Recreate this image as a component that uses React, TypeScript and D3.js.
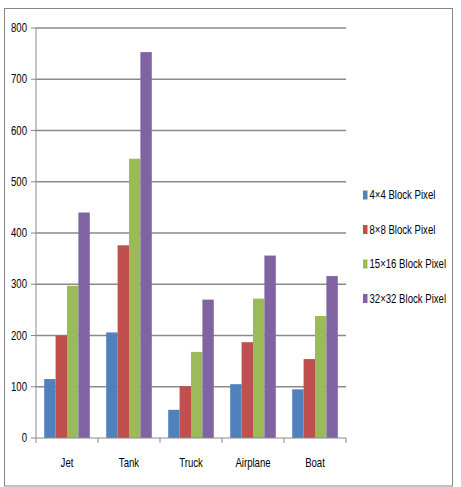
import React from "react";
import * as d3 from "d3";

const categories = ["Jet", "Tank", "Truck", "Airplane", "Boat"];
const seriesNames = ["4×4 Block Pixel", "8×8 Block Pixel", "15×16 Block Pixel", "32×32 Block Pixel"];
const block4 = [115, 206, 55, 105, 95];
const block8 = [200, 376, 101, 187, 154];
const block16 = [297, 545, 168, 272, 238];
const block32 = [440, 753, 270, 356, 316];
const yTicks = [0, 100, 200, 300, 400, 500, 600, 700, 800];
const colors = ["#4F81BD", "#C0504D", "#9BBB59", "#8064A2"];

const series = [block4, block8, block16, block32];

const FONT = "'Liberation Sans', Arial, sans-serif";
const SQUEEZE = 0.8;

function Label({
  x,
  y,
  anchor = "start",
  children,
}: {
  x: number;
  y: number;
  anchor?: "start" | "middle" | "end";
  children: React.ReactNode;
}) {
  return (
    <text
      transform={`translate(${x},${y}) scale(${SQUEEZE},1)`}
      dy="0.35em"
      textAnchor={anchor}
      fontFamily={FONT}
      fontSize={12}
      fill="#000"
    >
      {children}
    </text>
  );
}

export default function App() {
  const W = 461;
  const H = 487;
  const left = 36;
  const right = 346;
  const top = 28;
  const bottom = 438;

  const x = d3.scaleBand<string>().domain(categories).range([left, right]).paddingInner(0).paddingOuter(0);
  const inner = d3
    .scaleBand<number>()
    .domain(d3.range(series.length))
    .range([0, x.bandwidth()])
    .paddingOuter(0.72)
    .paddingInner(0);
  const y = d3.scaleLinear().domain([0, 800]).range([bottom, top]);

  const boundaries = [...categories.map((c) => x(c) as number), right];

  return (
    <svg width={W} height={H} style={{ position: "absolute", left: 0, top: 0 }}>
      <rect x={0} y={0} width={W} height={H} fill="#ffffff" />
      <rect x={4.5} y={8.5} width={448} height={477.5} fill="none" stroke="#868686" strokeWidth={1} />

      {yTicks.map((t) => (
        <g key={t}>
          {t > 0 && (
            <line x1={left} x2={right} y1={y(t)} y2={y(t)} stroke="#8a8a8a" strokeWidth={1.3} />
          )}
          <line x1={left - 5} x2={left} y1={y(t)} y2={y(t)} stroke="#8a8a8a" strokeWidth={1} />
          <Label x={27} y={y(t)} anchor="end">
            {t}
          </Label>
        </g>
      ))}

      {categories.map((c, ci) => (
        <g key={c}>
          {series.map((s, si) => (
            <rect
              key={si}
              x={(x(c) as number) + (inner(si) as number)}
              y={y(s[ci])}
              width={inner.bandwidth()}
              height={bottom - y(s[ci])}
              fill={colors[si]}
            />
          ))}
          <Label x={(x(c) as number) + x.bandwidth() / 2} y={463} anchor="middle">
            {c}
          </Label>
        </g>
      ))}

      <line x1={left} x2={left} y1={top} y2={bottom} stroke="#8a8a8a" strokeWidth={1} />
      <line x1={left} x2={right} y1={bottom} y2={bottom} stroke="#8a8a8a" strokeWidth={1} />
      {boundaries.map((b, i) => (
        <line key={i} x1={b} x2={b} y1={bottom} y2={bottom + 5} stroke="#8a8a8a" strokeWidth={1} />
      ))}

      {seriesNames.map((name, i) => {
        const cy = 195 + i * 34.5;
        return (
          <g key={name}>
            <rect x={363} y={cy - 4.5} width={4.5} height={9} fill={colors[i]} />
            <Label x={369.5} y={cy}>
              {name}
            </Label>
          </g>
        );
      })}
    </svg>
  );
}
